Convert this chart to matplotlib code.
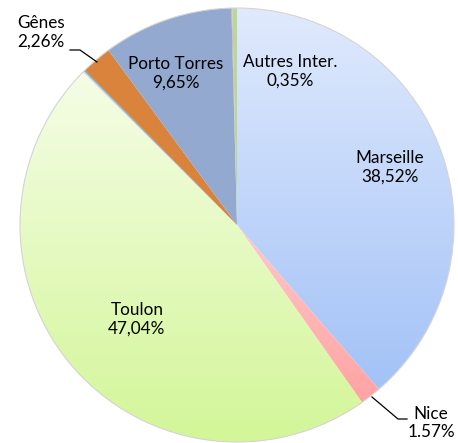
import numpy as np
import matplotlib
matplotlib.use("Agg")
import matplotlib.pyplot as plt
from matplotlib.colors import LinearSegmentedColormap

plt.rcParams['font.family'] = ['Lato', 'DejaVu Sans']

# --- DATA (clockwise from 12 o'clock) ---
ports = ["Marseille", "Nice", "Toulon", "Autre 1", "Autre 2", "Gênes",
         "Porto Torres", "Autre 3", "Autres Inter."]
shares = [38.52, 1.57, 47.04, 0.12, 0.08, 2.26, 9.65, 0.06, 0.35]
pct_text = ["38,52%", "1.57%", "47,04%", "", "", "2,26%", "9,65%", "", "0,35%"]

# top colour, bottom colour of each slice (gradient fill)
top_cols = ["#e0eafd", "#ffc9c9", "#f5fde6", "#dcd6ee", "#4bacc6", "#d9833c",
            "#93a9cf", "#e39c98", "#b9d79c"]
bot_cols = ["#a3c2f7", "#ffa3a3", "#d3f698", "#d4cde9", "#4bacc6", "#d9833c",
            "#93a9cf", "#e39c98", "#b9d79c"]

W, H = 458, 443
cx, cy, R = 237, H - 225, 217

fig = plt.figure(figsize=(W / 100, H / 100), dpi=100)
ax = fig.add_axes([0, 0, 1, 1])

wedges, _ = ax.pie(shares, startangle=90, counterclock=False,
                   center=(cx, cy), radius=R, frame=True,
                   wedgeprops=dict(linewidth=0))
ax.set_xlim(0, W)
ax.set_ylim(0, H)
ax.set_aspect('equal')
ax.axis('off')

# gradient fill clipped to each wedge (light at top, darker at bottom)
for w, c0, c1 in zip(wedges, top_cols, bot_cols):
    w.set_facecolor('none')
    bb = w.get_path().get_extents(w.get_transform() - ax.transData)
    grad = np.linspace(0, 1, 256).reshape(-1, 1)
    cmap = LinearSegmentedColormap.from_list('g', [c1, c0])
    im = ax.imshow(grad, cmap=cmap, extent=[bb.x0, bb.x1, bb.y0, bb.y1],
                   origin='lower', aspect='auto', zorder=1,
                   interpolation='bilinear')
    im.set_clip_path(w)

# soft outline of the pie
circ = plt.Circle((cx, cy), R, fill=False, ec='#d4d4d4', lw=0.8, zorder=3)
ax.add_patch(circ)

fs = 12.3
ls = 1.2
def lab(x, y, i):
    ax.text(x, H - y, f"{ports[i]}\n{pct_text[i]}", ha='center', va='center',
            fontsize=fs, linespacing=ls, zorder=5)

lab(390, 167, 0)
lab(137, 319, 2)
lab(176, 73, 6)
lab(290, 71, 8)

# Gênes with leader line
lab(41, 32, 5)
ax.plot([70, 80, 97], [H - 50, H - 50, H - 62], color='black', lw=0.9, zorder=5)

# Nice with leader line
ax.text(431, H - 423, f"{ports[1]}\n{pct_text[1]}", ha='center', va='center',
        fontsize=fs, linespacing=ls, zorder=5)
ax.plot([372, 398, 407], [H - 397, H - 419, H - 419], color='black', lw=0.9,
        zorder=5)

fig.savefig('out.png', dpi=100)
